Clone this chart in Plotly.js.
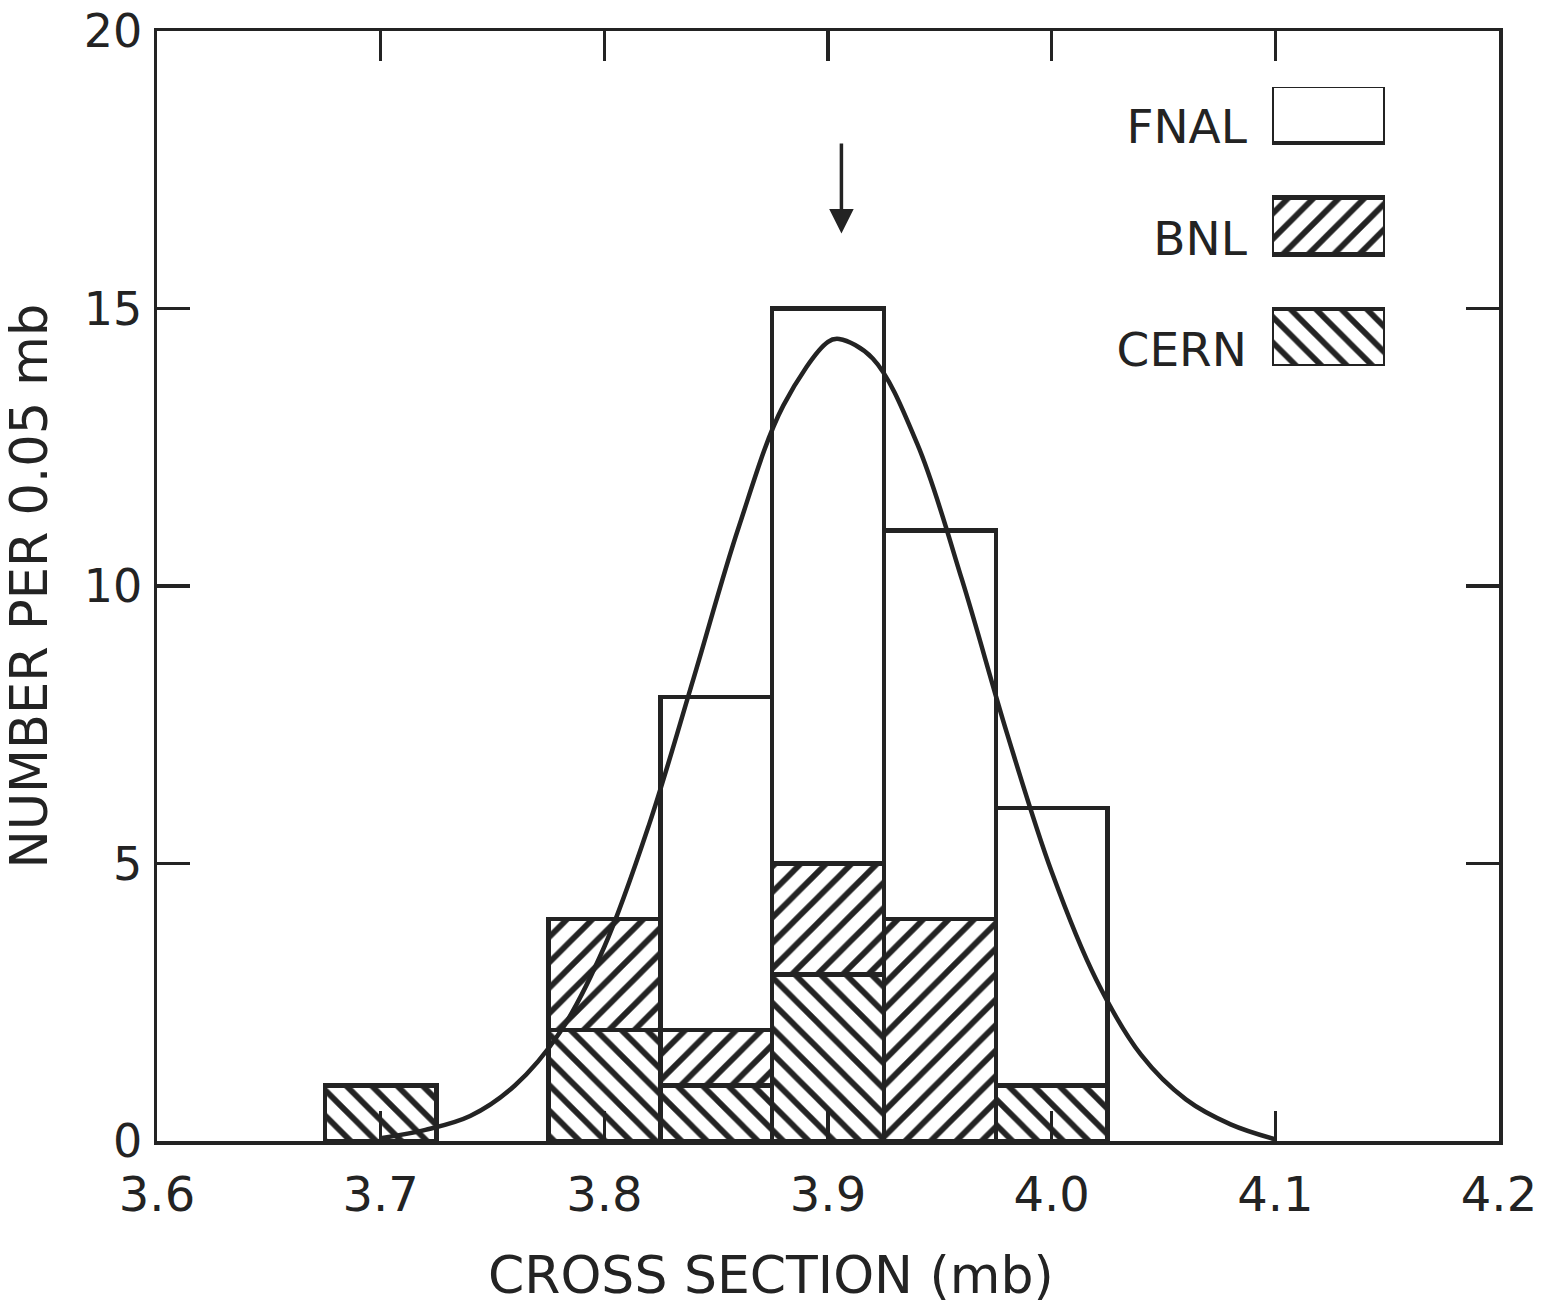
<!DOCTYPE html>
<html>
<head>
<meta charset="utf-8">
<script src="https://cdn.plot.ly/plotly-3.0.1.min.js"></script>
<style>html,body{margin:0;padding:0;background:#fff;}#chart{width:1557px;height:1305px;}</style>
</head>
<body>
<div id="chart"></div>
<script>
// ---- data ----
const binCenters = [3.70, 3.80, 3.85, 3.90, 3.95, 4.00];
const binWidth = 0.05;
const cernCounts = [1, 2, 1, 3, null, 1];
const bnlCounts  = [null, 2, 1, 2, 4, null];
const fnalCounts = [null, null, 6, 10, 7, 5];

const curveX = [3.70, 3.72, 3.74, 3.76, 3.78, 3.80, 3.82, 3.84, 3.86, 3.88, 3.90, 3.905, 3.92, 3.94, 3.96, 3.98, 4.00, 4.02, 4.04, 4.06, 4.08, 4.10];
const curveY = [0.05, 0.2, 0.45, 1.0, 1.95, 3.5, 5.7, 8.35, 11.05, 13.25, 14.4, 14.45, 14.1, 12.55, 10.1, 7.35, 4.85, 2.9, 1.55, 0.75, 0.3, 0.03];

const xTickVals = [3.6, 3.7, 3.8, 3.9, 4.0, 4.1, 4.2];
const xTickText = ['3.6', '3.7', '3.8', '3.9', '4.0', '4.1', '4.2'];
const yTickVals = [0, 5, 10, 15, 20];
const yTickText = ['0', '5', '10', '15', '20'];

const legendNames = ['FNAL', 'BNL', 'CERN'];
const legendPatterns = ['', '/', '\\'];
const legendLen = [1, 1, 1];

const arrowX = 3.906, arrowTipY = 16.35, arrowTailY = 18.0;

// ---- styling ----
const INK = '#232323';
const FONT = 'DejaVu Sans';
const hatchSize = 18, hatchSolid = 0.32;

function barTrace(name, counts, shape) {
  return {
    type: 'bar', name: name, x: binCenters, y: counts,
    width: binCenters.map(() => binWidth),
    marker: {
      color: '#ffffff',
      line: {color: INK, width: 4.5},
      pattern: {shape: shape, size: hatchSize, solidity: hatchSolid, fgcolor: INK, bgcolor: '#ffffff', fillmode: 'replace'}
    },
    hoverinfo: 'skip', xaxis: 'x', yaxis: 'y'
  };
}

const traces = [
  barTrace('CERN', cernCounts, '\\'),
  barTrace('BNL', bnlCounts, '/'),
  barTrace('FNAL', fnalCounts, ''),
  {
    type: 'scatter', mode: 'lines', x: curveX, y: curveY,
    line: {color: INK, width: 4.5, shape: 'spline', smoothing: 1},
    hoverinfo: 'skip', xaxis: 'x', yaxis: 'y'
  },
  {
    type: 'bar', orientation: 'h', x: legendLen, y: legendNames, width: 0.51,
    marker: {
      color: '#ffffff',
      line: {color: INK, width: 4.5},
      pattern: {shape: legendPatterns, size: hatchSize, solidity: hatchSolid, fgcolor: INK, bgcolor: '#ffffff', fillmode: 'replace'}
    },
    hoverinfo: 'skip', xaxis: 'x2', yaxis: 'y2'
  }
];

const layout = {
  width: 1557, height: 1305,
  paper_bgcolor: '#ffffff', plot_bgcolor: 'rgba(0,0,0,0)',
  margin: {l: 157, r: 58, t: 31, b: 164, pad: 0},
  showlegend: false,
  barmode: 'stack', bargap: 0,
  font: {family: FONT, color: INK},
  xaxis: {
    domain: [0, 1], range: [3.6, 4.2], tickvals: xTickVals, ticktext: xTickText,
    ticks: 'inside', ticklen: 30, tickwidth: 3.5, tickcolor: INK,
    showline: true, linewidth: 3.5, linecolor: INK, mirror: 'ticks',
    showgrid: false, zeroline: false,
    tickfont: {family: FONT, size: 48, color: INK},
    ticklabelstandoff: 9, layer: 'above traces'
  },
  yaxis: {
    domain: [0, 1], range: [0, 20], tickvals: yTickVals, ticktext: yTickText,
    ticks: 'inside', ticklen: 33, tickwidth: 3.5, tickcolor: INK,
    showline: true, linewidth: 3.5, linecolor: INK, mirror: 'ticks',
    showgrid: false, zeroline: false,
    tickfont: {family: FONT, size: 46, color: INK},
    ticklabelstandoff: 2, layer: 'above traces',
    title: {text: 'NUMBER PER 0.05 mb', font: {family: FONT, size: 51, color: INK}, standoff: 22}
  },
  xaxis2: {
    domain: [0.8308, 0.9151], range: [0, 1], anchor: 'y2',
    visible: false, fixedrange: true
  },
  yaxis2: {
    domain: [0.6982, 0.9495], anchor: 'x2', type: 'category',
    range: [2.255, -0.247], showline: false, showgrid: false, zeroline: false,
    ticks: '', tickfont: {family: FONT, size: 47, color: INK},
    ticklabelstandoff: 24, ticklabelshift: -12, fixedrange: true
  },
  annotations: [
    {
      text: 'CROSS SECTION (mb)', xref: 'paper', yref: 'paper',
      x: 0.4575, y: -0.1207, xanchor: 'center', yanchor: 'middle', showarrow: false,
      font: {family: FONT, size: 52, color: INK}
    },
    {
      text: '', x: arrowX, y: arrowTipY, ax: arrowX, ay: arrowTailY,
      xref: 'x', yref: 'y', axref: 'x', ayref: 'y',
      showarrow: true, arrowhead: 2, arrowsize: 1.4, arrowwidth: 3.5, arrowcolor: INK, standoff: 0, startstandoff: 0
    }
  ]
};

Plotly.newPlot('chart', traces, layout, {staticPlot: true, displayModeBar: false});
</script>
</body>
</html>
